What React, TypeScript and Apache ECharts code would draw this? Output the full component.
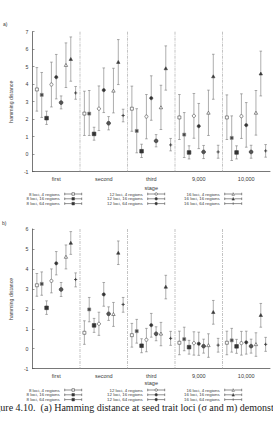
import React, { useEffect, useRef } from "react";
import * as echarts from "echarts";

const stages = ["first", "second", "third", "9,000", "10,000"];
const seriesNames = [
  "8 loci, 4 regions",
  "8 loci, 16 regions",
  "8 loci, 64 regions",
  "12 loci, 4 regions",
  "12 loci, 16 regions",
  "12 loci, 64 regions",
  "16 loci, 4 regions",
  "16 loci, 16 regions",
  "16 loci, 64 regions",
];
const yRangeA = [-1, 7];
const yRangeB = [-1, 6];
const stageBoundaries = [1, 2, 3, 4];

// panel a) : mean, lower and upper end of each error bar (series x stage)
const aMean = [
  [3.7, 2.32, 2.6, 2.1, 2.1],
  [3.39, 2.32, 1.33, 1.12, 0.93],
  [2.06, 1.16, 0.17, 0.1, 0.1],
  [3.98, 2.6, 2.15, 2.19, 2.17],
  [4.4, 3.66, 3.2, 1.6, 1.66],
  [2.95, 1.77, 0.76, 0.13, 0.13],
  [5.09, 3.62, 2.67, 2.36, 2.36],
  [5.43, 5.26, 4.9, 4.44, 4.6],
  [3.5, 2.21, 0.53, 0.13, 0.19],
];
const aLow = [
  [2.46, 1.07, 1.31, 0.84, 0.84],
  [2.1, 1.07, 0.08, -0.19, -0.36],
  [1.7, 0.8, -0.19, -0.27, -0.27],
  [2.7, 1.35, 0.88, 0.91, 0.9],
  [3.16, 2.38, 1.94, 0.32, 0.4],
  [2.59, 1.39, 0.42, -0.25, -0.23],
  [3.81, 2.36, 1.41, 1.07, 1.09],
  [4.17, 3.98, 3.66, 3.14, 3.33],
  [3.14, 1.85, 0.19, -0.23, -0.17],
];
const aHigh = [
  [4.95, 3.6, 3.89, 3.41, 3.39],
  [4.67, 3.64, 2.6, 2.38, 2.19],
  [2.46, 1.54, 0.57, 0.48, 0.48],
  [5.26, 3.9, 3.41, 3.47, 3.45],
  [5.7, 4.93, 4.48, 2.9, 2.95],
  [3.33, 2.15, 1.12, 0.5, 0.51],
  [6.36, 4.91, 3.94, 3.66, 3.64],
  [6.7, 6.55, 6.19, 5.71, 5.89],
  [3.87, 2.57, 0.9, 0.51, 0.55],
];

// panel b)
const bMean = [
  [3.18, 0.8, 0.68, 0.3, 0.3],
  [3.25, 1.97, 0.88, 0.48, 0.42],
  [2.05, 1.17, 0.15, 0.08, 0.12],
  [3.4, 1.25, 0.45, 0.28, 0.28],
  [4.28, 2.72, 1.18, 0.25, 0.32],
  [2.97, 1.75, 0.75, 0.13, 0.13],
  [4.6, 1.73, 0.75, 0.17, 0.22],
  [5.3, 4.8, 3.1, 1.83, 1.68],
  [3.47, 2.22, 0.52, 0.18, 0.22],
];
const bLow = [
  [2.63, 0.22, 0.08, -0.3, -0.3],
  [2.68, 1.35, 0.28, -0.1, -0.17],
  [1.72, 0.82, -0.2, -0.27, -0.23],
  [2.8, 0.67, -0.15, -0.32, -0.32],
  [3.7, 2.13, 0.58, -0.33, -0.27],
  [2.62, 1.42, 0.4, -0.22, -0.22],
  [4.0, 1.12, 0.15, -0.43, -0.38],
  [4.73, 4.22, 2.5, 1.23, 1.08],
  [3.1, 1.83, 0.17, -0.17, -0.13],
];
const bHigh = [
  [3.77, 1.4, 1.27, 0.88, 0.88],
  [3.85, 2.57, 1.47, 1.08, 1.02],
  [2.4, 1.52, 0.5, 0.42, 0.47],
  [4.0, 1.83, 1.02, 0.85, 0.87],
  [4.87, 3.32, 1.77, 0.83, 0.88],
  [3.32, 2.1, 1.1, 0.48, 0.48],
  [5.2, 2.32, 1.32, 0.75, 0.8],
  [5.87, 5.4, 3.68, 2.42, 2.27],
  [3.8, 2.57, 0.87, 0.52, 0.57],
];

const markerKinds = [
  "sqOpen", "sqFill", "sqBig",
  "cirOpen", "cirFill", "cirBig",
  "triOpen", "triFill", "plus",
];

const SANS = "'Liberation Sans', Arial, sans-serif";
const TEXT = "#3a3a3a";
const BAR = "#777";

function markerEl(kind: string, x: number, y: number) {
  const stroke = "#444";
  const lw = 0.6;
  switch (kind) {
    case "sqOpen":
      return { type: "rect", shape: { x: x - 1.5, y: y - 1.5, width: 3, height: 3 }, style: { fill: "#fff", stroke, lineWidth: lw } };
    case "sqFill":
      return { type: "rect", shape: { x: x - 1.5, y: y - 1.5, width: 3, height: 3 }, style: { fill: "#444", stroke: "#888", lineWidth: lw } };
    case "sqBig":
      return { type: "rect", shape: { x: x - 1.8, y: y - 1.8, width: 3.6, height: 3.6 }, style: { fill: "#333", stroke: "#333", lineWidth: lw } };
    case "cirOpen":
      return { type: "circle", shape: { cx: x, cy: y, r: 1.6 }, style: { fill: "#fff", stroke, lineWidth: lw } };
    case "cirFill":
      return { type: "circle", shape: { cx: x, cy: y, r: 1.6 }, style: { fill: "#333", stroke, lineWidth: lw } };
    case "cirBig":
      return { type: "circle", shape: { cx: x, cy: y, r: 1.9 }, style: { fill: "#555", stroke: "#333", lineWidth: lw } };
    case "triOpen":
      return { type: "polygon", shape: { points: [[x - 1.7, y + 1.3], [x + 1.7, y + 1.3], [x, y - 1.7]] }, style: { fill: "#fff", stroke, lineWidth: lw } };
    case "triFill":
      return { type: "polygon", shape: { points: [[x - 1.7, y + 1.3], [x + 1.7, y + 1.3], [x, y - 1.7]] }, style: { fill: "#333", stroke, lineWidth: lw } };
    default:
      return {
        type: "group",
        children: [
          { type: "line", shape: { x1: x - 1.6, y1: y, x2: x + 1.6, y2: y }, style: { stroke: "#333", lineWidth: 0.8 } },
          { type: "line", shape: { x1: x, y1: y - 1.6, x2: x, y2: y + 1.6 }, style: { stroke: "#333", lineWidth: 0.8 } },
        ],
      };
  }
}

function iconPath(kind: string) {
  const base = "M0,4H17M23,4H40M0,1V7M40,1V7";
  if (kind.startsWith("sq")) return "path://" + base + "M17,1H23V7H17Z";
  if (kind.startsWith("cir")) return "path://" + base + "M23,4A3,3,0,1,1,17,4A3,3,0,1,1,23,4Z";
  if (kind.startsWith("tri")) return "path://" + base + "M17,7L20,1L23,7Z";
  return "path://M0,4H40M0,1V7M40,1V7M20,1V7";
}
function iconFill(kind: string) {
  if (kind.endsWith("Open")) return "#fff";
  if (kind === "plus") return "#444";
  return "#333";
}

function makeSeries(panel: number, mean: number[][], low: number[][], high: number[][]) {
  return seriesNames.map((name, si) => ({
    type: "custom",
    name,
    xAxisIndex: panel,
    yAxisIndex: panel,
    encode: { x: 0, y: [1, 2, 3] },
    data: stages.map((_, k) => [k, mean[si][k], low[si][k], high[si][k]]),
    renderItem: (_p: any, api: any) => {
      const k = api.value(0);
      const band = api.size([1, 0])[0];
      const dx = (si - 4) * band * 0.102;
      const pm = api.coord([k, api.value(1)]);
      const pl = api.coord([k, api.value(2)]);
      const ph = api.coord([k, api.value(3)]);
      const x = pm[0] + dx;
      const cap = 1.3;
      const st = { stroke: BAR, lineWidth: 0.6 };
      return {
        type: "group",
        children: [
          { type: "line", shape: { x1: x, y1: pl[1], x2: x, y2: ph[1] }, style: st },
          { type: "line", shape: { x1: x - cap, y1: pl[1], x2: x + cap, y2: pl[1] }, style: st },
          { type: "line", shape: { x1: x - cap, y1: ph[1], x2: x + cap, y2: ph[1] }, style: st },
          markerEl(markerKinds[si], x, pm[1]),
        ],
      };
    },
  }));
}

function separatorSeries(panel: number, range: number[]) {
  return {
    type: "custom",
    xAxisIndex: panel,
    yAxisIndex: panel,
    silent: true,
    encode: { x: 0, y: [1, 2] },
    data: stageBoundaries.map((b) => [b, range[0], range[1]]),
    renderItem: (_p: any, api: any) => {
      const b = api.value(0);
      const band = api.size([1, 0])[0];
      const top = api.coord([b, api.value(2)]);
      const bot = api.coord([b, api.value(1)]);
      const x = top[0] - band / 2;
      return {
        type: "line",
        shape: { x1: x, y1: top[1], x2: x, y2: bot[1] },
        style: { stroke: "#9a9a9a", lineWidth: 0.6, lineDash: [3, 1, 1, 1] },
      };
    },
  };
}

function xAxis(panel: number, nameGap: number) {
  return {
    type: "category",
    gridIndex: panel,
    data: stages,
    name: "stage",
    nameLocation: "middle",
    nameGap,
    nameTextStyle: { fontSize: 5.5, color: TEXT, fontFamily: SANS },
    axisLine: { onZero: false, lineStyle: { color: "#555", width: 0.8 } },
    axisTick: { alignWithLabel: true, inside: true, length: 2, lineStyle: { color: "#555", width: 0.6 } },
    axisLabel: { fontSize: 5.5, color: TEXT, margin: 4, fontFamily: SANS },
    splitLine: { show: false },
  };
}
function yAxis(panel: number, range: number[]) {
  return {
    type: "value",
    gridIndex: panel,
    min: range[0],
    max: range[1],
    interval: 1,
    name: "hamming distance",
    nameLocation: "middle",
    nameGap: 15,
    nameRotate: 90,
    nameTextStyle: { fontSize: 5.2, color: TEXT, fontFamily: SANS },
    axisLine: { show: true, onZero: false, lineStyle: { color: "#555", width: 0.8 } },
    axisTick: { show: true, inside: true, length: 2, lineStyle: { color: "#555", width: 0.6 } },
    axisLabel: { fontSize: 5.2, color: TEXT, margin: 4, fontFamily: SANS },
    splitLine: { show: false },
  };
}

function legends(top: number) {
  const rights = [191, 108, 31];
  return rights.map((right, col) => ({
    orient: "vertical",
    align: "right",
    right,
    top,
    padding: 0,
    itemGap: 0.8,
    itemWidth: 17,
    itemHeight: 3.4,
    selectedMode: false,
    textStyle: { fontSize: 4.4, color: TEXT, fontFamily: SANS, lineHeight: 4 },
    data: seriesNames.slice(col * 3, col * 3 + 3).map((name, j) => {
      const kind = markerKinds[col * 3 + j];
      return {
        name,
        icon: iconPath(kind),
        itemStyle: { color: iconFill(kind), borderColor: "#444", borderWidth: 0.6 },
      };
    }),
  }));
}

export default function App() {
  const ref = useRef<HTMLDivElement>(null);
  useEffect(() => {
    if (!ref.current) return;
    const chart = echarts.init(ref.current, undefined, { renderer: "svg" });
    chart.setOption({
      animation: false,
      backgroundColor: "#fff",
      grid: [
        { left: 25, right: 3, top: 31.7, height: 140 },
        { left: 25, right: 3, top: 229, height: 139.7 },
      ],
      xAxis: [xAxis(0, 13.5), xAxis(1, 11)],
      yAxis: [yAxis(0, yRangeA), yAxis(1, yRangeB)],
      legend: [...legends(192), ...legends(388)],
      graphic: [
        { type: "text", x: 3, y: 21, style: { text: "a)", font: `5px ${SANS}`, fill: TEXT } },
        { type: "text", x: 2, y: 220, style: { text: "b)", font: `5px ${SANS}`, fill: TEXT } },
        {
          type: "text",
          x: -13,
          y: 402,
          style: {
            text: "Figure 4.10.  (a) Hamming distance at seed trait loci (σ and m) demonstrated",
            font: `10px 'Liberation Serif', 'DejaVu Serif', serif`,
            fill: "#222",
          },
        },
      ],
      series: [
        separatorSeries(0, yRangeA),
        separatorSeries(1, yRangeB),
        ...makeSeries(0, aMean, aLow, aHigh),
        ...makeSeries(1, bMean, bLow, bHigh),
      ],
    });
    return () => chart.dispose();
  }, []);
  return (
    <div
      ref={ref}
      style={{ position: "fixed", left: 0, top: 0, width: 273, height: 423, background: "#fff" }}
    />
  );
}
